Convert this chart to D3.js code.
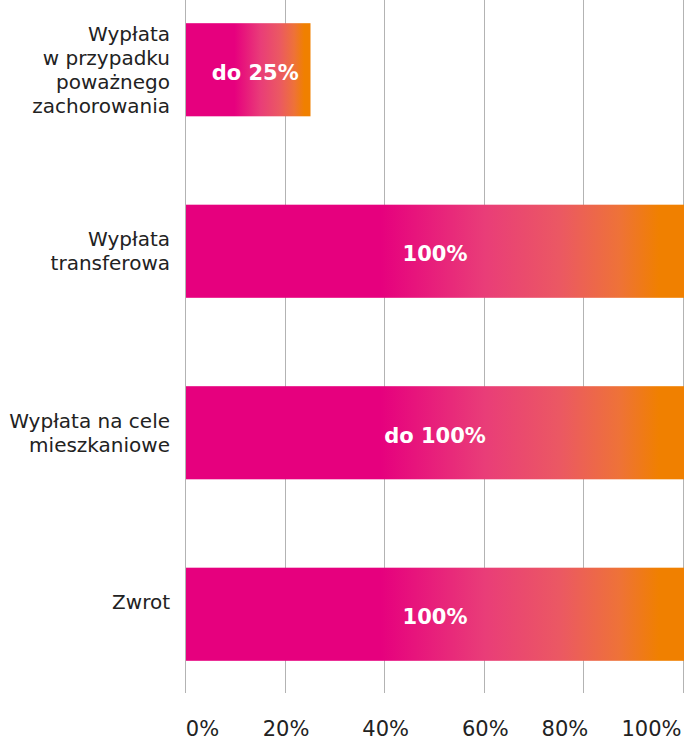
<!DOCTYPE html>
<html>
<head>
<meta charset="utf-8">
<script src="https://cdn.jsdelivr.net/npm/d3@7"></script>
<style>
  body { margin: 0; background: #fff; }
  text { font-family: "DejaVu Sans", sans-serif; }
</style>
</head>
<body>
<div id="chart"></div>
<script>
// data
var categories = [
  ["Wypłata", "w przypadku", "poważnego", "zachorowania"],
  ["Wypłata", "transferowa"],
  ["Wypłata na cele", "mieszkaniowe"],
  ["Zwrot", ""]
];
var values = [25, 100, 100, 100];
var valueLabels = ["do 25%", "100%", "do 100%", "100%"];
var tickValues = [0, 20, 40, 60, 80, 100];
var tickLabels = ["0%", "20%", "40%", "60%", "80%", "100%"];

var W = 686, H = 740;
var margin = { left: 186, right: 2 };

var svg = d3.select("#chart").append("svg")
  .attr("width", W).attr("height", H);

// gradient magenta -> orange
var grad = svg.append("defs").append("linearGradient")
  .attr("id", "barGrad")
  .attr("x1", "0").attr("x2", "1").attr("y1", "0").attr("y2", "0");
[[0, "#e6007e"], [0.39, "#e6007e"], [0.6, "#e93d78"], [0.75, "#eb5863"],
 [0.87, "#ee7238"], [0.95, "#f08000"], [1, "#f08000"]].forEach(function (s) {
  grad.append("stop").attr("offset", s[0]).attr("stop-color", s[1]);
});

var x = d3.scaleLinear().domain([0, 100]).range([margin.left, W - margin.right]);
var y = d3.scaleBand()
  .domain(d3.range(categories.length))
  .range([-21, 705])
  .paddingInner(0.487)
  .paddingOuter(0.2435);

// grid lines
svg.append("g").selectAll("line")
  .data(tickValues)
  .enter().append("line")
  .attr("x1", function (d) { return Math.round(x(d)) - 0.5; })
  .attr("x2", function (d) { return Math.round(x(d)) - 0.5; })
  .attr("y1", 0).attr("y2", 693)
  .attr("stroke", "#b3b3b3").attr("stroke-width", 1);

// x axis labels
var axis = svg.append("g")
  .attr("transform", "translate(0,736)")
  .call(d3.axisBottom(x).tickValues(tickValues)
    .tickFormat(function (d, i) { return tickLabels[i]; })
    .tickSize(0).tickPadding(0));
axis.select(".domain").remove();
axis.selectAll("text")
  .attr("font-family", "DejaVu Sans, sans-serif")
  .attr("font-size", 21)
  .attr("fill", "#222")
  .attr("y", 0)
  .attr("dy", 0)
  .attr("dx", function (d) { return d === 0 ? 16 : d === 80 ? -20 : d === 100 ? -33 : 0; });

// bars
var bars = svg.append("g").selectAll("g")
  .data(values)
  .enter().append("g");

bars.append("rect")
  .attr("x", x(0))
  .attr("y", function (d, i) { return y(i); })
  .attr("width", function (d) { return x(d) - x(0); })
  .attr("height", y.bandwidth())
  .attr("fill", "url(#barGrad)");

bars.append("text")
  .attr("x", function (d, i) { return (x(0) + x(d)) / 2 + (i === 0 ? 7 : 0); })
  .attr("y", function (d, i) { return y(i) + y.bandwidth() / 2; })
  .attr("dy", "0.48em")
  .attr("text-anchor", "middle")
  .attr("fill", "#fff")
  .attr("font-weight", "bold")
  .attr("font-size", 21)
  .text(function (d, i) { return valueLabels[i]; });

// category labels
var lh = 24;
svg.append("g").selectAll("text")
  .data(categories)
  .enter().append("text")
  .attr("text-anchor", "end")
  .attr("font-size", 20)
  .attr("fill", "#222")
  .each(function (lines, i) {
    var cy = y(i) + y.bandwidth() / 2;
    var top = cy - (lines.length - 1) * lh / 2;
    d3.select(this).selectAll("tspan")
      .data(lines)
      .enter().append("tspan")
      .attr("x", 170)
      .attr("y", function (d, j) { return top + j * lh; })
      .attr("dy", "0.35em")
      .text(function (d) { return d; });
  });
</script>
</body>
</html>
